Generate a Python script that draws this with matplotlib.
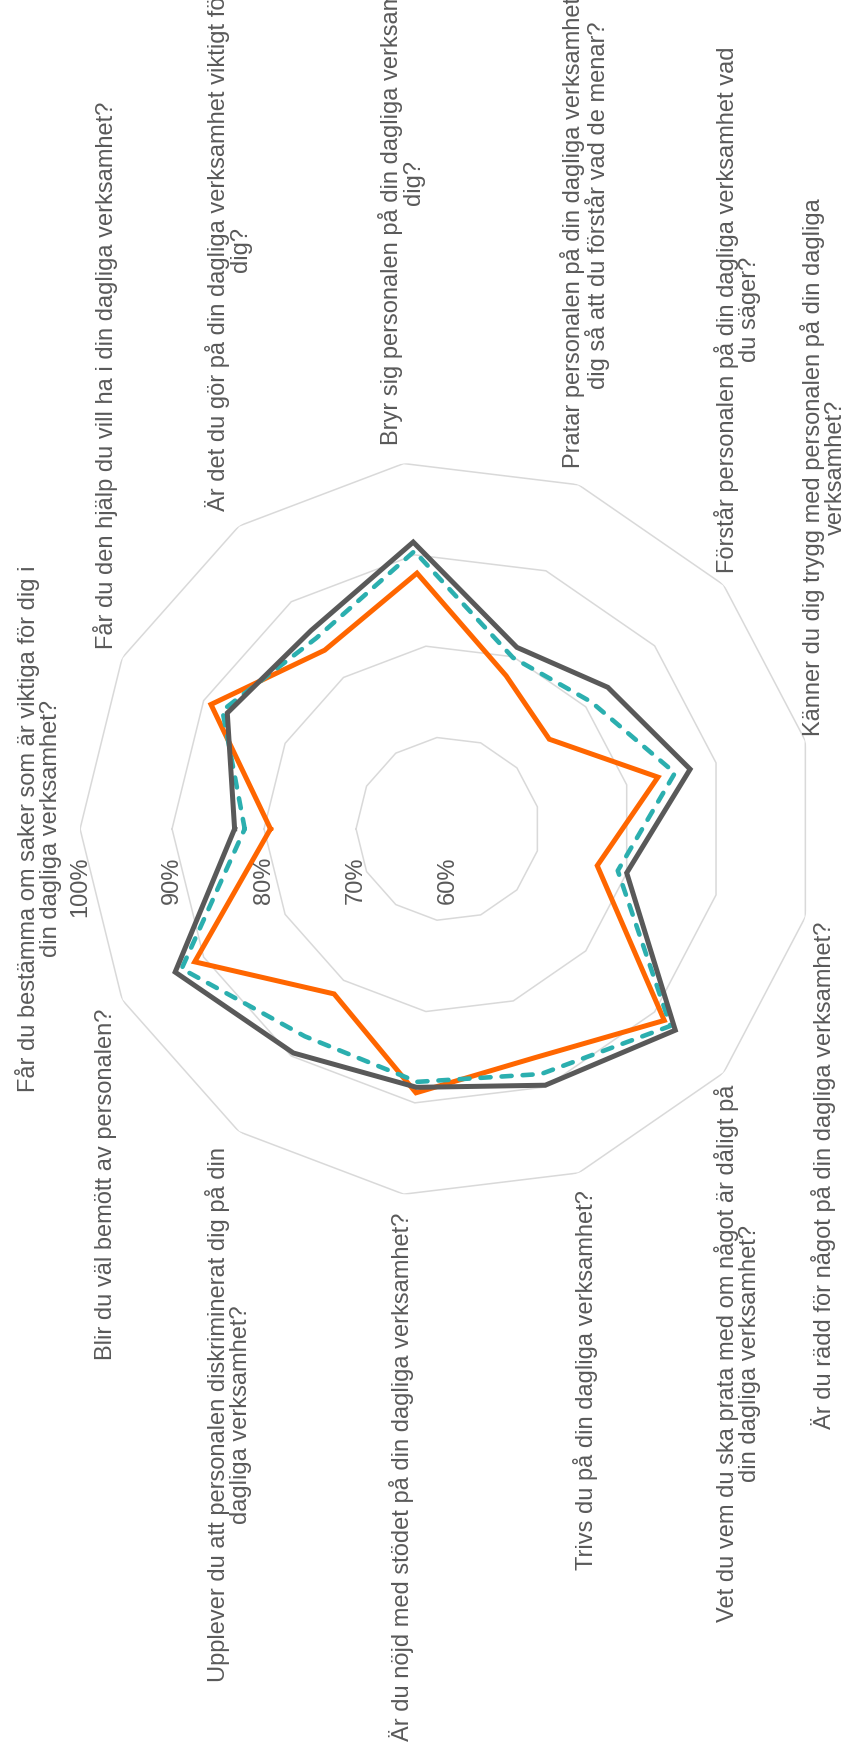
"""Rotated radar chart: survey answers for daglig verksamhet."""
import numpy as np
import matplotlib
matplotlib.use('Agg')
import matplotlib.pyplot as plt

QUESTIONS = [
    'Får du bestämma om saker som är viktiga för dig i\ndin dagliga verksamhet?',
    'Får du den hjälp du vill ha i din dagliga verksamhet?',
    'Är det du gör på din dagliga verksamhet viktigt för\ndig?',
    'Bryr sig personalen på din dagliga verksamhet om\ndig?',
    'Pratar personalen på din dagliga verksamhet med\ndig så att du förstår vad de menar?',
    'Förstår personalen på din dagliga verksamhet vad\ndu säger?',
    'Känner du dig trygg med personalen på din dagliga\nverksamhet?',
    'Är du rädd för något på din dagliga verksamhet?',
    'Vet du vem du ska prata med om något är dåligt på\ndin dagliga verksamhet?',
    'Trivs du på din dagliga verksamhet?',
    'Är du nöjd med stödet på din dagliga verksamhet?',
    'Upplever du att personalen diskriminerat dig på din\ndagliga verksamhet?',
    'Blir du väl bemött av personalen?',
]

# percent positive answers per question
DARK = [83.2, 87.1, 86.2, 91.4, 81.1, 83.2, 87.1, 80.0, 93.0, 89.8, 88.3, 89.6, 93.5]
TEAL = [82.1, 87.7, 85.2, 90.4, 79.9, 80.8, 85.4, 79.0, 92.3, 88.5, 87.7, 87.4, 92.7]
ORANGE = [79.3, 89.1, 83.6, 88.0, 77.8, 74.7, 83.5, 76.7, 91.4, 86.6, 88.9, 81.8, 91.1]

RINGS = [70, 80, 90, 100]
TICKS = [60, 70, 80, 90, 100]
TICK_LABELS = ['60%', '70%', '80%', '90%', '100%']

TEXT = '#595959'
FONT = ['Liberation Sans', 'DejaVu Sans']


def closed(values):
    return list(values) + [values[0]]


def label_align(theta):
    """Excel-like placement, with the whole chart turned a quarter left.

    In the unturned chart side labels are left/right aligned and centred
    vertically, while the top label is centred above its spoke.
    """
    ang = np.pi - theta
    up, right = np.sin(ang), np.cos(ang)
    if abs(up) < 0.2:
        return ('right' if right < 0 else 'left'), 'center'
    return 'center', ('bottom' if up > 0 else 'top')


def main():
    plt.rcParams['font.family'] = FONT
    fig = plt.figure(figsize=(8.46, 17.57), dpi=100)
    ax = fig.add_axes([0.0946, 0.3188, 0.870, 0.4189], projection='polar')
    ax.set_theta_offset(np.pi)
    ax.set_theta_direction(-1)
    ax.set_ylim(60, 100)
    ax.grid(False)
    ax.set_xticks([])
    ax.set_yticks([])
    ax.spines['polar'].set_visible(False)
    ax.patch.set_visible(False)

    n = len(QUESTIONS)
    theta = np.arange(n) * 2 * np.pi / n
    theta_c = closed(theta)

    for ring in RINGS:
        ax.plot(theta_c, [ring] * (n + 1), color='#d9d9d9', lw=1.1, zorder=1)

    ax.plot(theta_c, closed(ORANGE), color='#ff6600', lw=3.6,
            solid_joinstyle='miter', zorder=3)
    ax.plot(theta_c, closed(TEAL), color='#2bafaf', lw=3.3,
            dashes=(2.2, 2.4), dash_capstyle='round', zorder=4)
    ax.plot(theta_c, closed(DARK), color='#595959', lw=3.6,
            solid_joinstyle='miter', zorder=5)

    for tick, txt in zip(TICKS, TICK_LABELS):
        ax.annotate(txt, xy=(0, tick), xytext=(0, -20),
                    textcoords='offset points', rotation=90,
                    ha='center', va='top', fontsize=17, color=TEXT)

    for t, question in zip(theta, QUESTIONS):
        ha, va = label_align(t)
        ax.text(t, 102.0, question, rotation=90, ha=ha, va=va,
                multialignment='center', fontsize=17, color=TEXT,
                linespacing=1.0)

    fig.savefig('out.png', dpi=100, facecolor='white')


if __name__ == '__main__':
    main()
